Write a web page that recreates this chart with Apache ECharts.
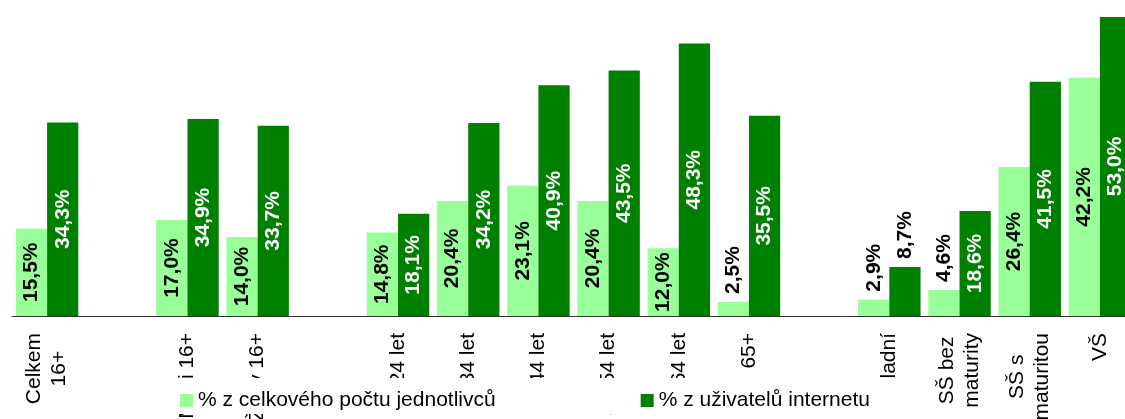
<!DOCTYPE html>
<html>
<head>
<meta charset="utf-8">
<script src="https://cdn.jsdelivr.net/npm/echarts@6/dist/echarts.min.js"></script>
<style>
  html, body { margin: 0; padding: 0; background: #fff; }
  #chart { width: 1125px; height: 419px; }
</style>
</head>
<body>
<div id="chart"></div>
<script>
var categories = ['Celkem\n16+', '', 'Muži 16+', 'Ženy 16+', '', '16-24 let', '25-34 let', '35-44 let',
    '45-54 let', '55-64 let', '65+', '', 'Základní', 'SŠ bez\nmaturity', 'SŠ s\nmaturitou', 'VŠ'];
var seriesNames = ['% z celkového počtu jednotlivců', '% z uživatelů internetu'];
var celkem = [15.5, null, 17.0, 14.0, null, 14.8, 20.4, 23.1, 20.4, 12.0, 2.5, null, 2.9, 4.6, 26.4, 42.2];
var uzivatele = [34.3, null, 34.9, 33.7, null, 18.1, 34.2, 40.9, 43.5, 48.3, 35.5, null, 8.7, 18.6, 41.5, 53.0];

var FONT = '"Liberation Sans", Arial, sans-serif';

function fmt(v) {
    return v.toFixed(1).replace('.', ',') + '%';
}

// popisky uvnitř sloupce, u nízkých sloupců nad ním
function makeData(values, insideColor) {
    return values.map(function (v) {
        if (v === null) return null;
        if (v < 10) {
            return {
                value: v,
                label: { position: 'top', rotate: 90, align: 'left', verticalAlign: 'middle', distance: 8, color: '#000' }
            };
        }
        return { value: v, label: { color: insideColor } };
    });
}

var myChart = echarts.init(document.getElementById('chart'));
var option = {
    animation: false,
    backgroundColor: '#fff',
    grid: { left: 12, top: 0, width: 1123, height: 316, outerBoundsMode: 'none' },
    legend: {
        left: 170,
        top: 378,
        padding: [12, 58, 3, 10],
        backgroundColor: '#fff',
        itemGap: 145,
        itemWidth: 13,
        itemHeight: 13,
        icon: 'rect',
        textStyle: { fontFamily: FONT, fontSize: 21, color: '#000' },
        data: seriesNames
    },
    xAxis: {
        type: 'category',
        data: categories,
        axisLine: { lineStyle: { color: '#333', width: 1 } },
        axisTick: { length: 5, lineStyle: { color: '#555' } },
        axisLabel: {
            interval: 0,
            rotate: 90,
            margin: 17,
            fontFamily: FONT,
            fontSize: 21,
            color: '#000',
            lineHeight: 25,
            formatter: function (val) {
                return val.split('\n').map(function (s) { return '{c|' + s + '}'; }).join('\n');
            },
            rich: {
                c: { align: 'center', fontFamily: FONT, fontSize: 21, color: '#000', lineHeight: 25 }
            }
        }
    },
    yAxis: {
        type: 'value',
        min: 0,
        max: 56,
        show: false
    },
    series: [
        {
            name: seriesNames[0],
            type: 'bar',
            barGap: 0,
            barCategoryGap: '11%',
            itemStyle: { color: '#99ff99' },
            label: {
                show: true,
                position: 'inside',
                rotate: 90,
                fontFamily: FONT,
                fontSize: 21,
                fontWeight: 'bold',
                formatter: function (p) { return fmt(p.value); }
            },
            data: makeData(celkem, '#000')
        },
        {
            name: seriesNames[1],
            type: 'bar',
            barGap: 0,
            barCategoryGap: '11%',
            itemStyle: { color: '#008000' },
            label: {
                show: true,
                position: 'inside',
                rotate: 90,
                fontFamily: FONT,
                fontSize: 21,
                fontWeight: 'bold',
                formatter: function (p) { return fmt(p.value); }
            },
            data: makeData(uzivatele, '#fff')
        }
    ]
};
myChart.setOption(option);
</script>
</body>
</html>
